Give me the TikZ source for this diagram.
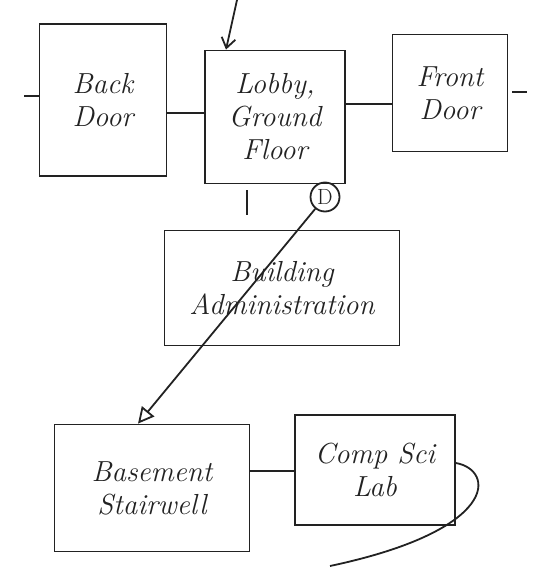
\documentclass[tikz,border=0pt]{standalone}
\usetikzlibrary{arrows.meta,positioning}
\definecolor{ink}{HTML}{222222}
\tikzset{
  room/.style={draw=ink, line width=1.8pt, rectangle, align=center, inner sep=2pt,
    font=\fontsize{29}{33}\selectfont\itshape, text=ink},
  link/.style={draw=ink, line width=1.8pt},
  marker/.style={draw=ink, line width=1.8pt, circle, minimum size=29pt, inner sep=0pt,
    font=\fontsize{22}{24}\selectfont, text=ink}
}
\begin{document}
\begin{tikzpicture}[x=1pt,y=-1pt]
\useasboundingbox (0,0) rectangle (535,567);
% rooms
\node[room, minimum width=127pt, minimum height=152pt] (back) at (103,100) {Back\\Door};
\node[room, minimum width=140pt, minimum height=133pt] (lobby) at (275,117) {Lobby,\\Ground\\Floor};
\node[room, minimum width=115pt, minimum height=117pt] (front) at (450,93) {Front\\Door};
\node[room, minimum width=235pt, minimum height=115pt] (admin) at (282,288) {Building\\Administration};
\node[room, minimum width=195pt, minimum height=127pt] (base) at (152,488) {Basement\\Stairwell};
\node[room, minimum width=160pt, minimum height=110pt] (lab) at (375,470) {Comp Sci\\Lab};
\node[marker] (D) at (325,197) {D};
% free ends
\coordinate (entry) at (237,0);
\coordinate (backout) at (24,96);
\coordinate (frontout) at (527,92);
\coordinate (frontgap) at (512,92);
\coordinate (lobbydown) at (247,215);
\coordinate (lobbygap) at (247,190);
\coordinate (loopend) at (330,566);
% connectors
\draw[link, -{Straight Barb[length=10pt,width=14pt]}] (entry) -- (lobby.north -| 226,0);
\draw[link] (back.west |- backout) -- (backout);
\draw[link] (frontgap) -- (frontout);
\draw[link] (back.east |- 0,113) -- (lobby.west |- 0,113);
\draw[link] (lobby.east |- 0,104) -- (front.west |- 0,104);
\draw[link] (lobbygap) -- (lobbydown);
\draw[link, -{Triangle[open,length=16pt,width=16pt]}] (D) -- (base.north -| 138,0);
\draw[link] (base.east |- 0,471) -- (lab.west |- 0,471);
\draw[link] (lab.east |- 0,463) .. controls (495,470) and (500,530) .. (loopend);
\end{tikzpicture}
\end{document}
